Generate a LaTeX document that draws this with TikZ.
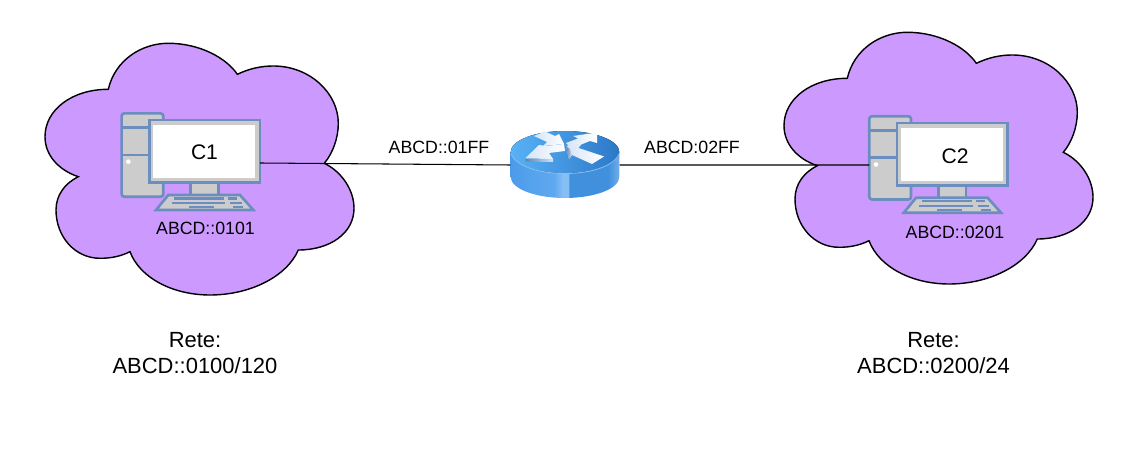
\documentclass[tikz,border=0pt]{standalone}
\usepackage{fontspec}
\setmainfont{Liberation Sans}
\usepackage{xcolor}
\usetikzlibrary{positioning,calc}
\definecolor{cloudfill}{HTML}{CC99FF}
\definecolor{pcblue}{HTML}{6C8EBF}
\definecolor{pcgray}{HTML}{CCCCCC}
\definecolor{routerA}{HTML}{4C9BEA}
\definecolor{routerB}{HTML}{5FA9F0}
\definecolor{routerC}{HTML}{86BEF6}
\definecolor{routerD}{HTML}{4090DE}
\definecolor{routerE}{HTML}{74AEEA}
\definecolor{routertopA}{HTML}{58B2F6}
\definecolor{routertopB}{HTML}{2C78C8}
\definecolor{routerpale}{HTML}{D6E4F7}
\definecolor{routerdark}{HTML}{5F82B0}
\pgfdeclarehorizontalshading{routerside}{100bp}{
  color(0bp)=(routerA); color(25bp)=(routerA); color(45bp)=(routerB);
  color(49bp)=(routerC); color(51.5bp)=(routerC); color(52bp)=(routerD);
  color(70bp)=(routerD); color(75bp)=(routerE); color(100bp)=(routerE)}

\begin{document}
\begin{tikzpicture}[
  x=0.02cm, y=-0.02cm,
  addr/.style={font=\fontsize{10.1}{12}\selectfont, inner sep=0pt},
  pcname/.style={font=\fontsize{12}{14}\selectfont, inner sep=0pt},
  netname/.style={font=\fontsize{12.5}{14.8}\selectfont, align=center, inner sep=0pt},
  link/.style={line width=0.6pt},
  routerarrow/.style={left color=routerpale, right color=white, draw=none},
  routeredge/.style={left color=routerdark, right color=routerpale, draw=none},
  netcloud/.pic={
    \draw[fill=cloudfill, line width=0.8pt] (108.3,89.3)
      .. controls (115,60) and (141.7,43.3) .. (168.3,43.3)
      .. controls (200,43.3) and (226.7,58.3) .. (237.3,74.3)
      .. controls (250,68.3) and (261.7,66) .. (273.3,66)
      .. controls (310,66) and (338.3,93.3) .. (338.3,123.3)
      .. controls (338.3,138.3) and (332.7,153.3) .. (324.3,163.3)
      .. controls (341.7,171.7) and (354,190) .. (354,208.3)
      .. controls (354,233.3) and (330,250) .. (298.3,250)
      .. controls (286.7,276.7) and (250,295) .. (210,295)
      .. controls (173.3,295) and (140,278.3) .. (130,251.7)
      .. controls (120,256.7) and (110,258.3) .. (100,258.3)
      .. controls (75,258.3) and (56,236.7) .. (56,210)
      .. controls (56,195) and (65,183.3) .. (78.3,176.7)
      .. controls (58.3,170) and (45,155) .. (45,136.7)
      .. controls (45,110) and (71.7,89.3) .. (108.3,89.3) -- cycle;
  },
  pcset/.pic={
    \draw[draw=pcblue, fill=pcgray, line width=1.5pt, rounded corners=1.5pt] (-83,-38) rectangle (-41.3,45.3);
    \draw[draw=pcblue, line width=1.5pt] (-83,-23.7) -- (-55,-23.7) (-83,3.6) -- (-55,3.6);
    \fill[white] (-76.3,10.3) circle (2.3);
    \draw[draw=pcblue, fill=pcgray, line width=1.5pt] (-14,31.3) rectangle (13.7,44);
    \draw[draw=pcblue, fill=pcgray, line width=1.5pt] (-36.3,43.6) -- (35.4,43.6) -- (48.7,58.6) -- (-48.6,58.6) -- cycle;
    \draw[draw=pcblue, line width=1.2pt] (-30.6,47.1) -- (19.4,47.1) (23.7,47.1) -- (32.7,47.1)
      (-32.9,51.6) -- (20.4,51.6) (25.4,51.6) -- (37.1,51.6)
      (-15.3,55.6) -- (9.4,55.6) (28.7,55.6) -- (38.7,55.6);
    \draw[draw=pcblue, fill=pcgray, line width=1.5pt] (-55.3,-31.3) rectangle (55.4,31.3);
    \fill[white] (-51.6,-26.3) rectangle (50.4,26.6);
    \coordinate (-east) at (55.4,11.6);
    \coordinate (-west) at (-83,10.8);
  },
]
\useasboundingbox (0,0) rectangle (1138,455);

\pic at (0,0) {netcloud};
\pic at (739,-11) {netcloud};

\pic (pcone) at (204.6,151.4) {pcset};
\pic (pctwo) at (952.3,154.2) {pcset};
\node[pcname] (c1) at (204.5,152) {C1};
\node[pcname] (c2) at (955,156) {C2};
\node[addr] (addrone) at (205.5,228) {ABCD::0101};
\node[addr] (addrtwo) at (955,232.5) {ABCD::0201};

% router body and top
\shade[shading=routerside] (510.7,152) -- (510.7,177)
  .. controls (510.7,188.6) and (535,198) .. (565,198)
  .. controls (595,198) and (619.3,188.6) .. (619.3,177) -- (619.3,152) -- cycle;
\fill[left color=routertopA, right color=routertopB] (565,152) ellipse [x radius=54.3, y radius=21];
\draw[line width=0.5pt, color=routerC] (510.9,154)
  .. controls (515,165) and (537,173.5) .. (565,173.5)
  .. controls (593,173.5) and (615,165) .. (619.1,154);
\path[routerarrow] (534,136) -- (545,131.5) -- (555,136) -- (559,134) -- (564,144) -- (543,146) -- (547,142) -- cycle;
\path[routerarrow] (564,144) -- (546,146) -- (539,145) -- (525,158.5) -- (553,159) -- (549,153) -- (565,151) -- cycle;
\path[routeredge] (525,158.5) -- (553,159) -- (553,162) -- (526,161.5) -- cycle;
\path[routerarrow] (566,143) -- (578,138.5) -- (573,136) -- (597,132.5) -- (597,143) -- (590,141) -- (571,148.5) -- cycle;
\path[routerarrow] (566,146) -- (582,143.5) -- (578.5,148) -- (604,156.5) -- (592,164) -- (572,155) -- (569,159) -- cycle;
\path[routeredge] (566,146) -- (569,159) -- (572,155) -- (570,149) -- cycle;
\node[minimum width=2.172cm, minimum height=0.8cm, inner sep=0pt] (router) at (565,165) {};

\draw[link] (pcone-east) -- (router.west);
\draw[link] (router.east) -- (pctwo-west);

\node[addr] (portone) at (439,147) {ABCD::01FF};
\node[addr] (porttwo) at (692,147) {ABCD:02FF};

\node[netname] (netone) at (195,353) {Rete:\\ABCD::0100/120};
\node[netname] (nettwo) at (933.5,353) {Rete:\\ABCD::0200/24};
\end{tikzpicture}
\end{document}
